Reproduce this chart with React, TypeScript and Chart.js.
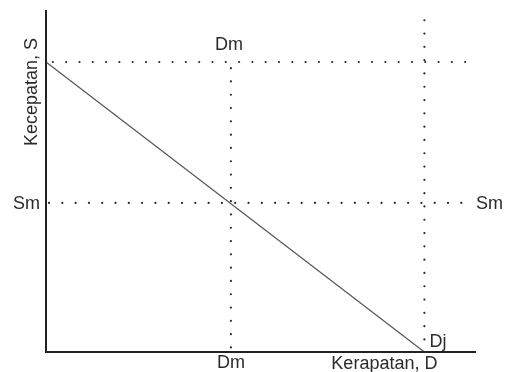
import React, { useEffect, useRef } from "react";
import { Chart, registerables } from "chart.js";

Chart.register(...registerables);

// Greenshields diagram values
const densityMax = 10; // x-scale end (axis end)
const speedMax = 10; // y-scale end (axis top)
const Dj = 8.8; // jam density
const Dm = 4.3; // density at max flow
const Sf = 8.48; // free-flow speed
const Sm = 4.36; // speed at max flow

const diagonalX = [0, Dj];
const diagonalY = [Sf, 0];
const topDottedX = [0.16, 9.93];
const smDottedX = [0.07, 9.95];
const dmDottedY = [8.3, 0.12];
const djDottedY = [9.7, 0.12];

const labelText = {
  dmTop: "Dm",
  dmBottom: "Dm",
  dj: "Dj",
  smLeft: "Sm",
  smRight: "Sm",
  xTitle: "Kerapatan, D",
  yTitle: "Kecepatan, S",
};

const FONT = '18px "Liberation Sans", Arial, sans-serif';
const TEXT_COLOR = "#2b2b2b";

const labelsPlugin = {
  id: "greenshieldsLabels",
  afterDraw(chart: any) {
    const ctx = chart.ctx;
    const xs = chart.scales.x;
    const ys = chart.scales.y;
    const px = (v: number) => xs.getPixelForValue(v);
    const py = (v: number) => ys.getPixelForValue(v);
    ctx.save();
    ctx.font = FONT;
    ctx.fillStyle = TEXT_COLOR;
    ctx.textBaseline = "alphabetic";

    ctx.textAlign = "center";
    ctx.fillText(labelText.dmTop, px(Dm) - 2, py(Sf) - 12);
    ctx.fillText(labelText.dmBottom, px(Dm), py(0) + 16);
    ctx.fillText(labelText.xTitle, px(Dj) - 40, py(0) + 17);

    ctx.textAlign = "left";
    ctx.fillText(labelText.dj, px(Dj) + 5, py(0) - 5);
    ctx.fillText(labelText.smRight, px(densityMax), py(Sm) + 6);

    ctx.textAlign = "right";
    ctx.fillText(labelText.smLeft, px(0) - 6, py(Sm) + 6);

    ctx.translate(px(0) - 9, 92);
    ctx.rotate(-Math.PI / 2);
    ctx.textAlign = "center";
    ctx.fillText(labelText.yTitle, 0, 0);
    ctx.restore();
  },
};

const dotted = (xsArr: number[], ysArr: number[]) => ({
  data: xsArr.map((x, i) => ({ x, y: ysArr[i] })),
  borderColor: "#2a2a2a",
  borderWidth: 2.2,
  borderDash: [0, 13.3],
  borderCapStyle: "round" as const,
  pointRadius: 0,
  fill: false,
  clip: false as any,
});

export default function App() {
  const ref = useRef<HTMLCanvasElement>(null);

  useEffect(() => {
    if (!ref.current) return;
    const chart = new Chart(ref.current, {
      type: "line",
      data: {
        datasets: [
          // axes
          {
            data: [
              { x: 0, y: speedMax },
              { x: 0, y: 0 },
              { x: densityMax, y: 0 },
            ],
            borderColor: "#222",
            borderWidth: 2,
            pointRadius: 0,
            fill: false,
            clip: false as any,
          },
          // speed-density line
          {
            data: diagonalX.map((x, i) => ({ x, y: diagonalY[i] })),
            borderColor: "#555",
            borderWidth: 1.2,
            pointRadius: 0,
            fill: false,
            clip: false as any,
          },
          dotted(topDottedX, [Sf, Sf]),
          dotted(smDottedX, [Sm, Sm]),
          dotted([Dm, Dm], dmDottedY),
          dotted([Dj, Dj], djDottedY),
        ],
      },
      options: {
        responsive: false,
        animation: false,
        events: [],
        layout: { padding: { left: 46, top: 10, right: 32, bottom: 20 } },
        plugins: {
          legend: { display: false },
          tooltip: { enabled: false },
        },
        scales: {
          x: { type: "linear", min: 0, max: densityMax, display: false },
          y: { type: "linear", min: 0, max: speedMax, display: false },
        },
      },
      plugins: [labelsPlugin],
    });
    return () => chart.destroy();
  }, []);

  return (
    <div style={{ position: "absolute", left: 0, top: 0, width: 508, height: 372, background: "#fff" }}>
      <canvas ref={ref} width={508} height={372} />
    </div>
  );
}
